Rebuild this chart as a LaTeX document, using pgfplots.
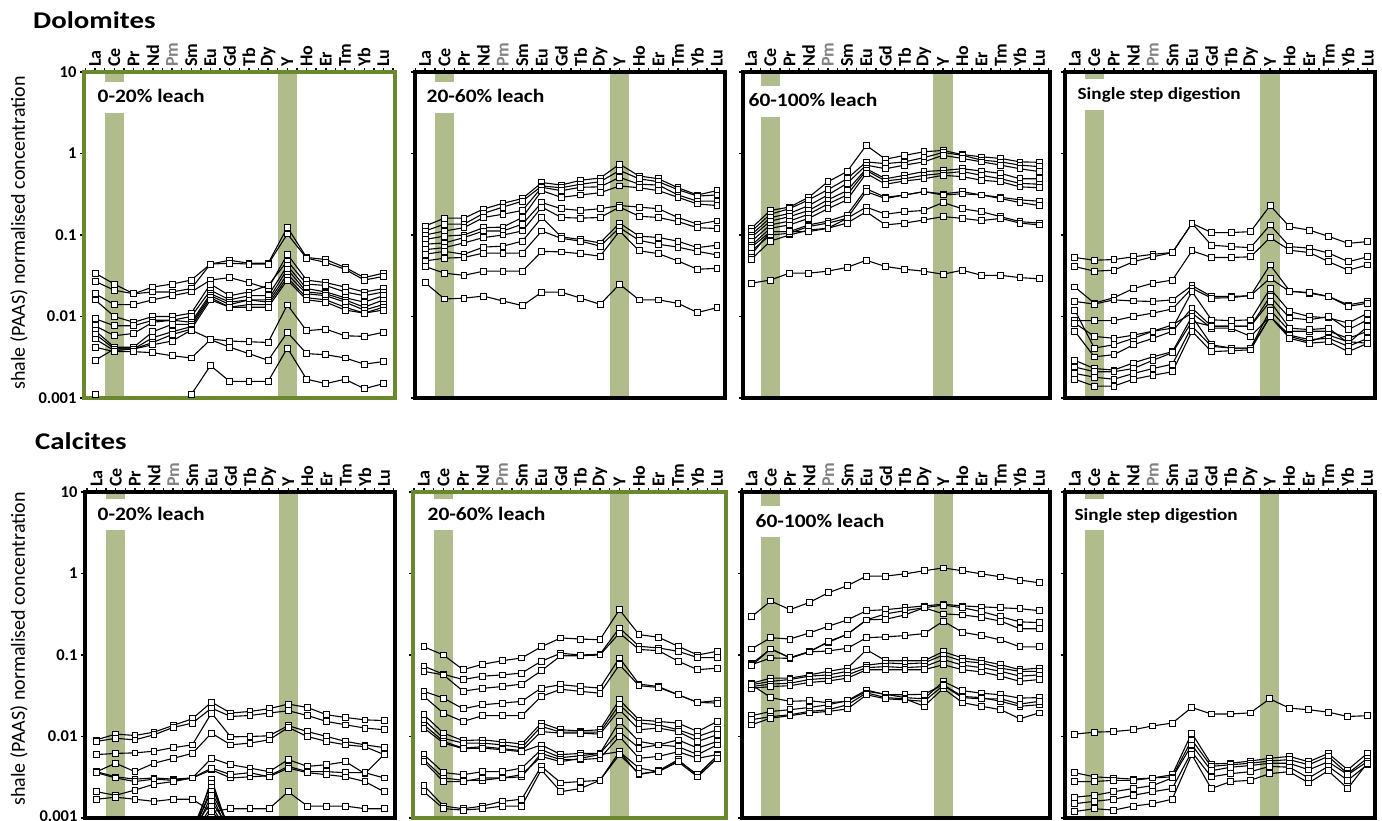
\documentclass[border=0pt]{standalone}
\usepackage{fontspec}
\setmainfont{Carlito}
\usepackage{pgfplots}
\pgfplotsset{compat=1.18}
\definecolor{bandgreen}{RGB}{176,188,140}
\definecolor{framegreen}{RGB}{106,137,46}
\definecolor{pmgray}{RGB}{130,130,130}
\pgfplotsset{table/header=false, table/row sep=\\, table/x expr=\coordindex, table/y index=0}
\pgfplotscreateplotcyclelist{reelist}{black, solid, line width=1.1pt, mark=square*, mark size=2.9pt, mark options={fill=white, draw=black, solid, line width=0.85pt}\\}
\pgfplotsset{
  every axis/.append style={
    scale only axis, height=326pt,
    ymode=log, ymin=0.001, ymax=10,
    ytick={0.001,0.01,0.1,1,10}, yticklabels={}, yminorticks=false,
    ytick pos=left,
    xtick={0,...,15},
    xticklabels={La,Ce,Pr,Nd,{\color{pmgray}Pm},Sm,Eu,Gd,Tb,Dy,Y,Ho,Er,Tm,Yb,Lu},
    minor xtick={-0.5,0.5,...,15.5},
    xtick pos=right, xticklabel pos=right,
    tick align=outside,
    major tick length=4pt, minor tick length=4pt,
    every tick/.style={black, line width=1.4pt},
    xticklabel style={rotate=90, anchor=west, inner sep=1pt, font=\bfseries\fontsize{18}{18}\selectfont},
    yticklabel style={font=\bfseries\fontsize{16.5}{16.5}\selectfont},
    axis line style={line width=4pt, black},
    axis on top,
    cycle list name=reelist,
  },
}
\newcommand{\bands}{%
  \addplot[draw=none, fill=bandgreen, mark=none, forget plot] coordinates {(0.5,0.0009) (1.5,0.0009) (1.5,11) (0.5,11)};
  \addplot[draw=none, fill=bandgreen, mark=none, forget plot] coordinates {(9.5,0.0009) (10.5,0.0009) (10.5,11) (9.5,11)};
}
\tikzset{
  plab/.style={anchor=base west, fill=white, inner xsep=3pt, inner ysep=0pt, text height=21pt, text depth=10pt, xscale=1.13, font=\bfseries\fontsize{19}{19}\selectfont},
  slab/.style={plab, font=\bfseries\fontsize{17}{17}\selectfont},
}
\begin{document}
\begin{tikzpicture}
\useasboundingbox (0pt,0pt) rectangle (1382pt,-821pt);
% ---------------- Dolomites 0-20%
\begin{axis}[at={(84pt,-72pt)}, anchor=north west, width=311pt, xmin=-0.58, xmax=15.6,
  axis line style={line width=4pt, framegreen}, yticklabels={0.001,0.01,0.1,1,10}]
\bands
\addplot table {0.034\\0.025\\0.019\\0.023\\0.025\\0.028\\0.044\\0.049\\0.045\\0.045\\0.124\\0.053\\0.050\\0.040\\0.030\\0.034\\};
\addplot table {0.027\\0.021\\0.019\\0.020\\0.020\\0.022\\0.044\\0.045\\0.044\\0.044\\0.103\\0.052\\0.046\\0.038\\0.028\\0.031\\};
\addplot table {0.019\\0.014\\0.014\\0.016\\0.018\\0.020\\0.028\\0.030\\0.026\\0.022\\0.058\\0.028\\0.026\\0.023\\0.020\\0.022\\};
\addplot table {0.016\\0.010\\0.0085\\0.010\\0.010\\0.011\\0.025\\0.018\\0.020\\0.024\\0.048\\0.025\\0.024\\0.020\\0.018\\0.020\\};
\addplot table {0.0094\\0.0077\\0.0077\\0.009\\0.009\\0.010\\0.021\\0.016\\0.018\\0.018\\0.042\\0.022\\0.020\\0.017\\0.015\\0.018\\};
\addplot table {0.0077\\0.0058\\0.0062\\0.0085\\0.009\\0.0085\\0.019\\0.015\\0.016\\0.016\\0.038\\0.020\\0.019\\0.016\\0.013\\0.016\\};
\addplot table {0.0067\\0.0042\\0.0042\\0.0065\\0.008\\0.008\\0.018\\0.014\\0.016\\0.015\\0.033\\0.019\\0.018\\0.015\\0.012\\0.014\\};
\addplot table {0.0061\\0.0040\\0.0040\\0.0055\\0.0065\\0.0075\\0.017\\0.013\\0.014\\0.014\\0.030\\0.017\\0.016\\0.013\\0.011\\0.013\\};
\addplot table {0.0053\\0.0038\\0.0040\\0.0048\\0.006\\0.007\\0.016\\0.013\\0.013\\0.013\\0.028\\0.016\\0.015\\0.012\\0.011\\0.012\\};
\addplot table {0.0029\\0.0040\\0.0040\\0.0045\\0.0050\\0.0068\\0.0053\\0.0050\\0.0049\\0.0048\\0.0139\\0.0067\\0.0070\\0.0058\\0.0057\\0.0064\\};
\addplot table {0.0042\\0.0037\\0.0037\\0.0036\\0.0033\\0.0031\\0.0052\\0.0042\\0.0035\\0.0029\\0.0064\\0.0035\\0.0034\\0.0031\\0.0026\\0.0028\\};
\addplot table {0.0011\\0.0007\\0.0007\\0.0007\\0.0008\\0.0011\\0.0025\\0.0016\\0.0016\\0.0016\\0.0041\\0.0017\\0.0015\\0.0017\\0.0013\\0.0015\\};
\end{axis}
% ---------------- Dolomites 20-60%
\begin{axis}[at={(415pt,-72pt)}, anchor=north west, width=310pt, xmin=-0.52, xmax=15.42]
\bands
\addplot table {0.129\\0.161\\0.161\\0.208\\0.245\\0.28\\0.44\\0.41\\0.47\\0.5\\0.74\\0.53\\0.49\\0.38\\0.31\\0.35\\};
\addplot table {0.112\\0.136\\0.136\\0.184\\0.22\\0.26\\0.40\\0.38\\0.42\\0.45\\0.62\\0.49\\0.45\\0.36\\0.30\\0.31\\};
\addplot table {0.1\\0.112\\0.123\\0.164\\0.18\\0.2\\0.385\\0.35\\0.385\\0.39\\0.51\\0.42\\0.41\\0.31\\0.26\\0.26\\};
\addplot table {0.088\\0.097\\0.1\\0.123\\0.125\\0.164\\0.35\\0.29\\0.31\\0.33\\0.40\\0.38\\0.35\\0.29\\0.24\\0.23\\};
\addplot table {0.077\\0.08\\0.093\\0.112\\0.112\\0.136\\0.25\\0.21\\0.2\\0.21\\0.23\\0.22\\0.21\\0.164\\0.136\\0.149\\};
\addplot table {0.066\\0.07\\0.08\\0.093\\0.1\\0.112\\0.22\\0.164\\0.161\\0.164\\0.22\\0.17\\0.164\\0.146\\0.123\\0.12\\};
\addplot table {0.058\\0.063\\0.058\\0.071\\0.073\\0.084\\0.164\\0.095\\0.088\\0.08\\0.14\\0.097\\0.093\\0.084\\0.07\\0.075\\};
\addplot table {0.048\\0.052\\0.053\\0.06\\0.06\\0.06\\0.112\\0.091\\0.084\\0.073\\0.123\\0.086\\0.077\\0.071\\0.063\\0.057\\};
\addplot table {0.041\\0.034\\0.032\\0.036\\0.036\\0.036\\0.063\\0.062\\0.059\\0.055\\0.112\\0.064\\0.059\\0.048\\0.038\\0.039\\};
\addplot table {0.026\\0.0164\\0.0168\\0.0178\\0.0155\\0.0136\\0.0199\\0.0199\\0.0168\\0.0141\\0.0249\\0.0160\\0.0160\\0.0145\\0.0112\\0.0128\\};
\end{axis}
% ---------------- Dolomites 60-100%
\begin{axis}[at={(743pt,-72pt)}, anchor=north west, width=307pt, xmin=-0.42, xmax=15.57]
\bands
\addplot table {0.12\\0.2\\0.22\\0.29\\0.45\\0.60\\1.26\\0.85\\0.95\\1.05\\1.09\\0.97\\0.91\\0.87\\0.79\\0.78\\};
\addplot table {0.11\\0.18\\0.21\\0.27\\0.36\\0.49\\0.79\\0.75\\0.79\\0.89\\1.03\\0.95\\0.83\\0.79\\0.72\\0.69\\};
\addplot table {0.1\\0.163\\0.184\\0.23\\0.31\\0.43\\0.72\\0.65\\0.72\\0.79\\0.95\\0.87\\0.79\\0.72\\0.65\\0.6\\};
\addplot table {0.093\\0.148\\0.168\\0.2\\0.27\\0.35\\0.65\\0.49\\0.54\\0.6\\0.62\\0.65\\0.61\\0.57\\0.49\\0.49\\};
\addplot table {0.083\\0.133\\0.148\\0.18\\0.24\\0.31\\0.62\\0.46\\0.49\\0.54\\0.57\\0.6\\0.54\\0.49\\0.43\\0.42\\};
\addplot table {0.074\\0.121\\0.133\\0.16\\0.21\\0.27\\0.57\\0.42\\0.46\\0.49\\0.54\\0.52\\0.47\\0.45\\0.39\\0.38\\};
\addplot table {0.057\\0.11\\0.11\\0.133\\0.148\\0.176\\0.37\\0.29\\0.31\\0.34\\0.32\\0.34\\0.31\\0.29\\0.27\\0.26\\};
\addplot table {0.05\\0.084\\0.1\\0.115\\0.121\\0.16\\0.34\\0.28\\0.31\\0.34\\0.31\\0.32\\0.31\\0.28\\0.25\\0.23\\};
\addplot table {0.063\\0.1\\0.105\\0.127\\0.14\\0.16\\0.22\\0.18\\0.193\\0.2\\0.25\\0.21\\0.193\\0.168\\0.146\\0.14\\};
\addplot table {0.07\\0.11\\0.11\\0.11\\0.121\\0.14\\0.193\\0.133\\0.14\\0.153\\0.168\\0.16\\0.15\\0.16\\0.14\\0.133\\};
\addplot table {0.0256\\0.028\\0.034\\0.034\\0.036\\0.040\\0.049\\0.041\\0.038\\0.036\\0.033\\0.037\\0.032\\0.032\\0.030\\0.029\\};
\end{axis}
% ---------------- Dolomites single step
\begin{axis}[at={(1065pt,-72pt)}, anchor=north west, width=310pt, xmin=-0.5, xmax=15.37]
\bands
\addplot table {0.053\\0.049\\0.05\\0.054\\0.058\\0.061\\0.139\\0.107\\0.107\\0.11\\0.23\\0.126\\0.115\\0.096\\0.079\\0.083\\};
\addplot table {0.041\\0.036\\0.037\\0.047\\0.054\\0.061\\0.139\\0.075\\0.072\\0.07\\0.133\\0.072\\0.069\\0.06\\0.047\\0.054\\};
\addplot table {0.023\\0.0146\\0.017\\0.022\\0.0256\\0.028\\0.064\\0.053\\0.053\\0.054\\0.093\\0.065\\0.061\\0.047\\0.037\\0.043\\};
\addplot table {0.0153\\0.0142\\0.016\\0.0155\\0.0153\\0.016\\0.024\\0.0176\\0.0176\\0.018\\0.043\\0.0206\\0.0193\\0.0176\\0.0139\\0.0153\\};
\addplot table {0.0089\\0.0089\\0.0089\\0.01\\0.011\\0.0124\\0.0222\\0.0168\\0.017\\0.0181\\0.0295\\0.0202\\0.0198\\0.0176\\0.0133\\0.0146\\};
\addplot table {0.012\\0.0041\\0.0045\\0.0054\\0.0066\\0.0072\\0.0202\\0.0091\\0.0089\\0.0091\\0.022\\0.0115\\0.01\\0.0096\\0.0083\\0.011\\};
\addplot table {0.0066\\0.0032\\0.0034\\0.0045\\0.0054\\0.0066\\0.0127\\0.0076\\0.0076\\0.0076\\0.0176\\0.0096\\0.0091\\0.01\\0.0069\\0.0091\\};
\addplot table {0.0083\\0.0057\\0.0054\\0.0059\\0.0066\\0.0079\\0.011\\0.0072\\0.0072\\0.0057\\0.01\\0.0057\\0.0049\\0.0059\\0.0049\\0.0047\\};
\addplot table {0.0029\\0.0023\\0.0022\\0.0027\\0.0032\\0.0037\\0.01\\0.0045\\0.0041\\0.0041\\0.012\\0.0066\\0.0066\\0.0066\\0.0054\\0.0066\\};
\addplot table {0.0024\\0.0021\\0.0021\\0.0023\\0.0029\\0.0036\\0.0087\\0.0076\\0.0076\\0.0076\\0.0153\\0.0072\\0.0069\\0.0072\\0.0047\\0.0076\\};
\addplot table {0.0020\\0.0018\\0.0017\\0.002\\0.0023\\0.0026\\0.0076\\0.0043\\0.0041\\0.0041\\0.01\\0.0059\\0.0052\\0.0054\\0.0043\\0.0054\\};
\addplot table {0.0017\\0.0014\\0.0014\\0.0017\\0.0019\\0.0021\\0.0066\\0.0037\\0.0038\\0.0039\\0.01\\0.0054\\0.0047\\0.0049\\0.0037\\0.0047\\};
\end{axis}
% ---------------- Calcites 0-20%
\begin{axis}[at={(85pt,-492pt)}, anchor=north west, width=310pt, xmin=-0.6, xmax=15.57, yticklabels={\raisebox{3pt}{0.001},0.01,0.1,1,10}]
\bands
\addplot table {0.0091\\0.0107\\0.0103\\0.0113\\0.0137\\0.0165\\0.0264\\0.0194\\0.0203\\0.0219\\0.0250\\0.0227\\0.0185\\0.0171\\0.016\\0.0157\\};
\addplot table {0.0087\\0.0095\\0.0091\\0.0105\\0.0129\\0.0146\\0.0223\\0.0176\\0.0181\\0.0194\\0.0207\\0.0181\\0.0153\\0.0139\\0.0127\\0.0121\\};
\addplot table {0.006\\0.0062\\0.0063\\0.0066\\0.0073\\0.0079\\0.0194\\0.0099\\0.01\\0.0102\\0.0136\\0.0115\\0.01\\0.0087\\0.0079\\0.0073\\};
\addplot table {0.0037\\0.0047\\0.0037\\0.0047\\0.0054\\0.0062\\0.011\\0.0079\\0.0083\\0.0091\\0.0129\\0.01\\0.0087\\0.0079\\0.0075\\0.006\\};
\addplot table {0.0037\\0.0032\\0.003\\0.0031\\0.003\\0.0031\\0.0054\\0.0045\\0.0041\\0.0037\\0.0052\\0.0043\\0.0045\\0.0049\\0.0035\\0.006\\};
\addplot table {0.0036\\0.0031\\0.0028\\0.003\\0.0029\\0.0031\\0.0039\\0.0031\\0.0032\\0.0033\\0.0043\\0.0037\\0.0037\\0.0036\\0.0036\\0.0031\\};
\addplot table {0.0021\\0.0019\\0.0022\\0.0026\\0.0028\\0.0031\\0.0041\\0.0034\\0.0036\\0.0032\\0.0041\\0.0036\\0.0034\\0.0032\\0.0028\\0.0021\\};
\addplot table {0.0017\\0.0018\\0.0017\\0.0016\\0.0017\\0.0017\\0.0012\\0.0013\\0.0013\\0.0013\\0.0021\\0.0014\\0.0014\\0.0014\\0.0013\\0.0013\\};
\addplot coordinates {(5,0.0006) (6,0.0030) (7,0.0006)};
\addplot coordinates {(5,0.0007) (6,0.0027) (7,0.0006)};
\addplot coordinates {(5,0.0006) (6,0.0024) (7,0.0007)};
\addplot coordinates {(5,0.0007) (6,0.0021) (7,0.0007)};
\addplot coordinates {(5,0.0006) (6,0.0019) (7,0.0006)};
\addplot coordinates {(5,0.0007) (6,0.0016) (7,0.0007)};
\addplot coordinates {(5,0.0006) (6,0.0014) (7,0.0006)};
\addplot coordinates {(5,0.0007) (6,0.0012) (7,0.0007)};
\end{axis}
% ---------------- Calcites 20-60%
\begin{axis}[at={(413pt,-492pt)}, anchor=north west, width=313pt, xmin=-0.56, xmax=15.45,
  axis line style={line width=4pt, framegreen}]
\bands
\addplot table {0.126\\0.1\\0.066\\0.077\\0.085\\0.092\\0.126\\0.162\\0.157\\0.154\\0.36\\0.178\\0.165\\0.128\\0.1\\0.111\\};
\addplot table {0.073\\0.058\\0.05\\0.055\\0.057\\0.06\\0.084\\0.105\\0.1\\0.102\\0.215\\0.128\\0.122\\0.111\\0.093\\0.093\\};
\addplot table {0.063\\0.057\\0.036\\0.039\\0.041\\0.044\\0.064\\0.098\\0.098\\0.1\\0.186\\0.117\\0.113\\0.084\\0.066\\0.069\\};
\addplot table {0.0358\\0.0296\\0.0219\\0.0245\\0.0257\\0.027\\0.0393\\0.0432\\0.041\\0.0393\\0.092\\0.044\\0.041\\0.0325\\0.0262\\0.0275\\};
\addplot table {0.031\\0.0193\\0.0153\\0.018\\0.018\\0.018\\0.031\\0.038\\0.0358\\0.034\\0.076\\0.042\\0.040\\0.0325\\0.0262\\0.0257\\};
\addplot table {0.0185\\0.011\\0.0089\\0.0091\\0.0086\\0.0081\\0.0146\\0.0121\\0.0117\\0.0121\\0.0282\\0.016\\0.0153\\0.0146\\0.0115\\0.0153\\};
\addplot table {0.016\\0.0095\\0.0083\\0.0083\\0.0079\\0.0073\\0.0133\\0.0113\\0.0113\\0.0113\\0.0245\\0.0146\\0.0139\\0.0121\\0.01\\0.0121\\};
\addplot table {0.0139\\0.0087\\0.0072\\0.0075\\0.0071\\0.0067\\0.0115\\0.011\\0.011\\0.0107\\0.0213\\0.0121\\0.0127\\0.0115\\0.0087\\0.0105\\};
\addplot table {0.0127\\0.0083\\0.0071\\0.0072\\0.0069\\0.0065\\0.0079\\0.006\\0.0062\\0.0062\\0.0153\\0.0087\\0.0079\\0.0091\\0.0072\\0.0087\\};
\addplot table {0.006\\0.0036\\0.0034\\0.0037\\0.0037\\0.0041\\0.0069\\0.0055\\0.0058\\0.0062\\0.0115\\0.0072\\0.0079\\0.0075\\0.006\\0.0079\\};
\addplot table {0.0052\\0.0031\\0.0029\\0.0029\\0.0031\\0.0032\\0.0062\\0.0052\\0.0052\\0.0054\\0.01\\0.0054\\0.0057\\0.0065\\0.0054\\0.006\\};
\addplot table {0.0049\\0.0028\\0.0028\\0.0031\\0.0031\\0.0034\\0.0057\\0.0049\\0.0054\\0.006\\0.0065\\0.0034\\0.0038\\0.0052\\0.0033\\0.0058\\};
\addplot table {0.0025\\0.0014\\0.0013\\0.0014\\0.0016\\0.0017\\0.0043\\0.0027\\0.0028\\0.0029\\0.0065\\0.0041\\0.0037\\0.005\\0.0034\\0.0058\\};
\addplot table {0.0021\\0.0013\\0.00125\\0.0013\\0.0014\\0.0014\\0.0039\\0.0021\\0.0023\\0.0029\\0.006\\0.0035\\0.0037\\0.0049\\0.0032\\0.0054\\};
\end{axis}
% ---------------- Calcites 60-100%
\begin{axis}[at={(742pt,-492pt)}, anchor=north west, width=308pt, xmin=-0.5, xmax=15.57]
\bands
\addplot table {0.295\\0.46\\0.36\\0.44\\0.58\\0.71\\0.93\\0.93\\0.99\\1.08\\1.17\\1.08\\0.99\\0.91\\0.83\\0.77\\};
\addplot table {0.119\\0.163\\0.157\\0.186\\0.225\\0.27\\0.35\\0.36\\0.38\\0.40\\0.42\\0.40\\0.39\\0.38\\0.37\\0.35\\};
\addplot table {0.078\\0.119\\0.092\\0.11\\0.143\\0.18\\0.27\\0.32\\0.35\\0.38\\0.41\\0.38\\0.34\\0.295\\0.255\\0.25\\};
\addplot table {0.076\\0.092\\0.091\\0.109\\0.112\\0.121\\0.163\\0.167\\0.173\\0.183\\0.26\\0.19\\0.173\\0.153\\0.126\\0.126\\};
\addplot table {0.074\\0.119\\0.093\\0.109\\0.146\\0.18\\0.27\\0.275\\0.31\\0.38\\0.32\\0.31\\0.29\\0.26\\0.21\\0.21\\};
\addplot table {0.045\\0.052\\0.052\\0.057\\0.063\\0.069\\0.116\\0.085\\0.085\\0.085\\0.11\\0.092\\0.085\\0.076\\0.066\\0.069\\};
\addplot table {0.0432\\0.0475\\0.050\\0.055\\0.057\\0.063\\0.075\\0.080\\0.078\\0.080\\0.1\\0.084\\0.080\\0.069\\0.063\\0.063\\};
\addplot table {0.041\\0.044\\0.045\\0.05\\0.052\\0.057\\0.07\\0.072\\0.07\\0.072\\0.088\\0.075\\0.07\\0.063\\0.055\\0.057\\};
\addplot table {0.039\\0.041\\0.042\\0.046\\0.048\\0.052\\0.066\\0.066\\0.066\\0.066\\0.076\\0.066\\0.062\\0.055\\0.0475\\0.05\\};
\addplot table {0.0432\\0.030\\0.027\\0.0275\\0.026\\0.027\\0.0358\\0.033\\0.030\\0.029\\0.0475\\0.0365\\0.034\\0.0325\\0.0296\\0.030\\};
\addplot table {0.018\\0.0203\\0.0213\\0.0227\\0.0245\\0.0276\\0.0372\\0.0325\\0.0325\\0.033\\0.0432\\0.031\\0.030\\0.027\\0.0235\\0.0245\\};
\addplot table {0.0161\\0.0175\\0.0185\\0.0203\\0.0213\\0.0245\\0.0343\\0.030\\0.029\\0.0235\\0.039\\0.026\\0.0235\\0.0213\\0.0165\\0.0195\\};
\addplot table {0.0139\\0.0168\\0.018\\0.0195\\0.0203\\0.0218\\0.0325\\0.029\\0.0282\\0.027\\0.0423\\0.030\\0.029\\0.029\\0.025\\0.027\\};
\end{axis}
% ---------------- Calcites single step
\begin{axis}[at={(1065pt,-492pt)}, anchor=north west, width=310pt, xmin=-0.5, xmax=15.4]
\bands
\addplot table {0.0107\\0.0113\\0.0115\\0.0121\\0.0135\\0.0146\\0.0227\\0.0189\\0.0189\\0.0195\\0.029\\0.0223\\0.0213\\0.0199\\0.0176\\0.0180\\};
\addplot table {0.0036\\0.0032\\0.0031\\0.003\\0.0031\\0.0034\\0.011\\0.0046\\0.0047\\0.0050\\0.0054\\0.0057\\0.0049\\0.0062\\0.0039\\0.0062\\};
\addplot table {0.0028\\0.0028\\0.0029\\0.0029\\0.0031\\0.0032\\0.0091\\0.0043\\0.0045\\0.0047\\0.005\\0.0052\\0.0045\\0.0057\\0.0035\\0.0054\\};
\addplot table {0.0018\\0.0019\\0.0021\\0.0023\\0.0025\\0.0031\\0.0079\\0.0038\\0.0042\\0.0044\\0.0047\\0.0047\\0.0039\\0.0049\\0.0034\\0.0049\\};
\addplot table {0.0015\\0.0016\\0.0017\\0.0019\\0.0021\\0.0023\\0.0065\\0.0032\\0.0035\\0.0037\\0.0043\\0.0042\\0.0031\\0.0043\\0.0029\\0.0045\\};
\addplot table {0.0012\\0.0013\\0.00125\\0.0014\\0.0015\\0.0017\\0.006\\0.0023\\0.0028\\0.0029\\0.0035\\0.0037\\0.0027\\0.0038\\0.0023\\0.0047\\};
\end{axis}
% ---------------- labels
\node[anchor=base west, inner sep=0pt, xscale=1.2, font=\bfseries\fontsize{24}{24}\selectfont] at (33pt,-29pt) {Dolomites};
\node[anchor=base west, inner sep=0pt, xscale=1.2, font=\bfseries\fontsize{24}{24}\selectfont] at (35pt,-449pt) {Calcites};
\node[rotate=90, font=\fontsize{20}{20}\selectfont] at (19pt,-233pt) {shale (PAAS) normalised concentration};
\node[rotate=90, font=\fontsize{20}{20}\selectfont] at (19pt,-649pt) {shale (PAAS) normalised concentration};
\node[plab] at (94pt,-103pt) {0-20\% leach};
\node[plab] at (423pt,-103pt) {20-60\% leach};
\node[plab] at (745pt,-107pt) {60-100\% leach};
\node[slab] at (1074pt,-100pt) {Single step digestion};
\node[plab] at (94pt,-520pt) {0-20\% leach};
\node[plab] at (424pt,-520pt) {20-60\% leach};
\node[plab] at (752pt,-527pt) {60-100\% leach};
\node[slab] at (1071pt,-520pt) {Single step digestion};
\end{tikzpicture}
\end{document}
